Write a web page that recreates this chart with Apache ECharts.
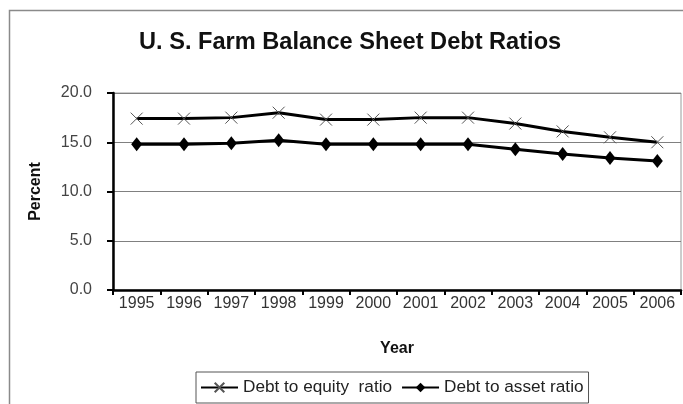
<!DOCTYPE html>
<html><head><meta charset="utf-8">
<script src="https://cdn.jsdelivr.net/npm/echarts@6/dist/echarts.min.js"></script>
<style>html,body{margin:0;padding:0;background:#fff}#c{width:683px;height:404px}</style>
</head><body><div id="c"></div>
<script>
var years = ['1995','1996','1997','1998','1999','2000','2001','2002','2003','2004','2005','2006'];
var debtToEquity = [17.4,17.4,17.5,18.0,17.3,17.3,17.5,17.5,16.9,16.1,15.5,15.0];
var debtToAsset = [14.8,14.8,14.9,15.2,14.8,14.8,14.8,14.8,14.3,13.8,13.4,13.1];
var yTicks = [0,5,10,15,20];

var chart = echarts.init(document.getElementById('c'));
var F = 'Liberation Sans, Arial, sans-serif';
chart.setOption({
  animation:false,
  textStyle:{fontFamily:F},
  graphic:[{type:'rect',shape:{x:9.5,y:10.5,width:700,height:500},style:{fill:'none',stroke:'#8a8a8a',lineWidth:1.5},silent:true,z:-1},
           {type:'rect',shape:{x:113,y:93,width:568,height:197},style:{fill:'none',stroke:'#9a9a9a',lineWidth:1},silent:true,z:0}],
  title:{text:'U. S. Farm Balance Sheet Debt Ratios',left:134,top:25,
    textStyle:{fontFamily:F,fontSize:23.6,fontWeight:'bold',color:'#111'}},
  grid:{left:113,right:2,top:93,bottom:114,containLabel:false},
  legend:{left:196,top:372,width:400,borderColor:'#555',borderWidth:1,padding:[7,5,7,4],
    itemGap:9,itemWidth:37,itemHeight:12,
    textStyle:{fontFamily:F,fontSize:17.2,color:'#222'},
    data:['Debt to equity  ratio','Debt to asset ratio']},
  xAxis:{type:'category',data:years,boundaryGap:true,
    name:'Year',nameLocation:'middle',nameGap:51,
    nameTextStyle:{fontFamily:F,fontSize:16,fontWeight:'bold',color:'#111'},
    axisLine:{lineStyle:{color:'#000',width:2.5}},
    axisTick:{show:true,inside:false,length:5,lineStyle:{color:'#000',width:2}},
    axisLabel:{fontFamily:F,fontSize:16,color:'#333',margin:6}},
  yAxis:{type:'value',min:0,max:20,interval:5,
    name:'Percent',nameLocation:'middle',nameGap:69,nameRotate:90,
    nameTextStyle:{fontFamily:F,fontSize:16,fontWeight:'bold',color:'#111'},
    axisLine:{show:true,lineStyle:{color:'#000',width:2.5}},
    axisTick:{show:true,length:6,lineStyle:{color:'#000',width:2}},
    axisLabel:{fontFamily:F,fontSize:16,color:'#444',margin:21,
      formatter:function(v){return yTicks.indexOf(v)>=0?v.toFixed(1):'';}},
    splitLine:{lineStyle:{color:'#808080',width:1}}},
  series:[
    {name:'Debt to equity  ratio',type:'line',data:debtToEquity,
     symbol:'path://M0,0L10,10M10,0L0,10',symbolSize:12,
     lineStyle:{color:'#000',width:3},
     itemStyle:{color:'#000',borderColor:'#555',borderWidth:1}},
    {name:'Debt to asset ratio',type:'line',data:debtToAsset,
     symbol:'diamond',symbolSize:[11,14],
     lineStyle:{color:'#000',width:3},
     itemStyle:{color:'#000'}}
  ]
});
</script></body></html>
